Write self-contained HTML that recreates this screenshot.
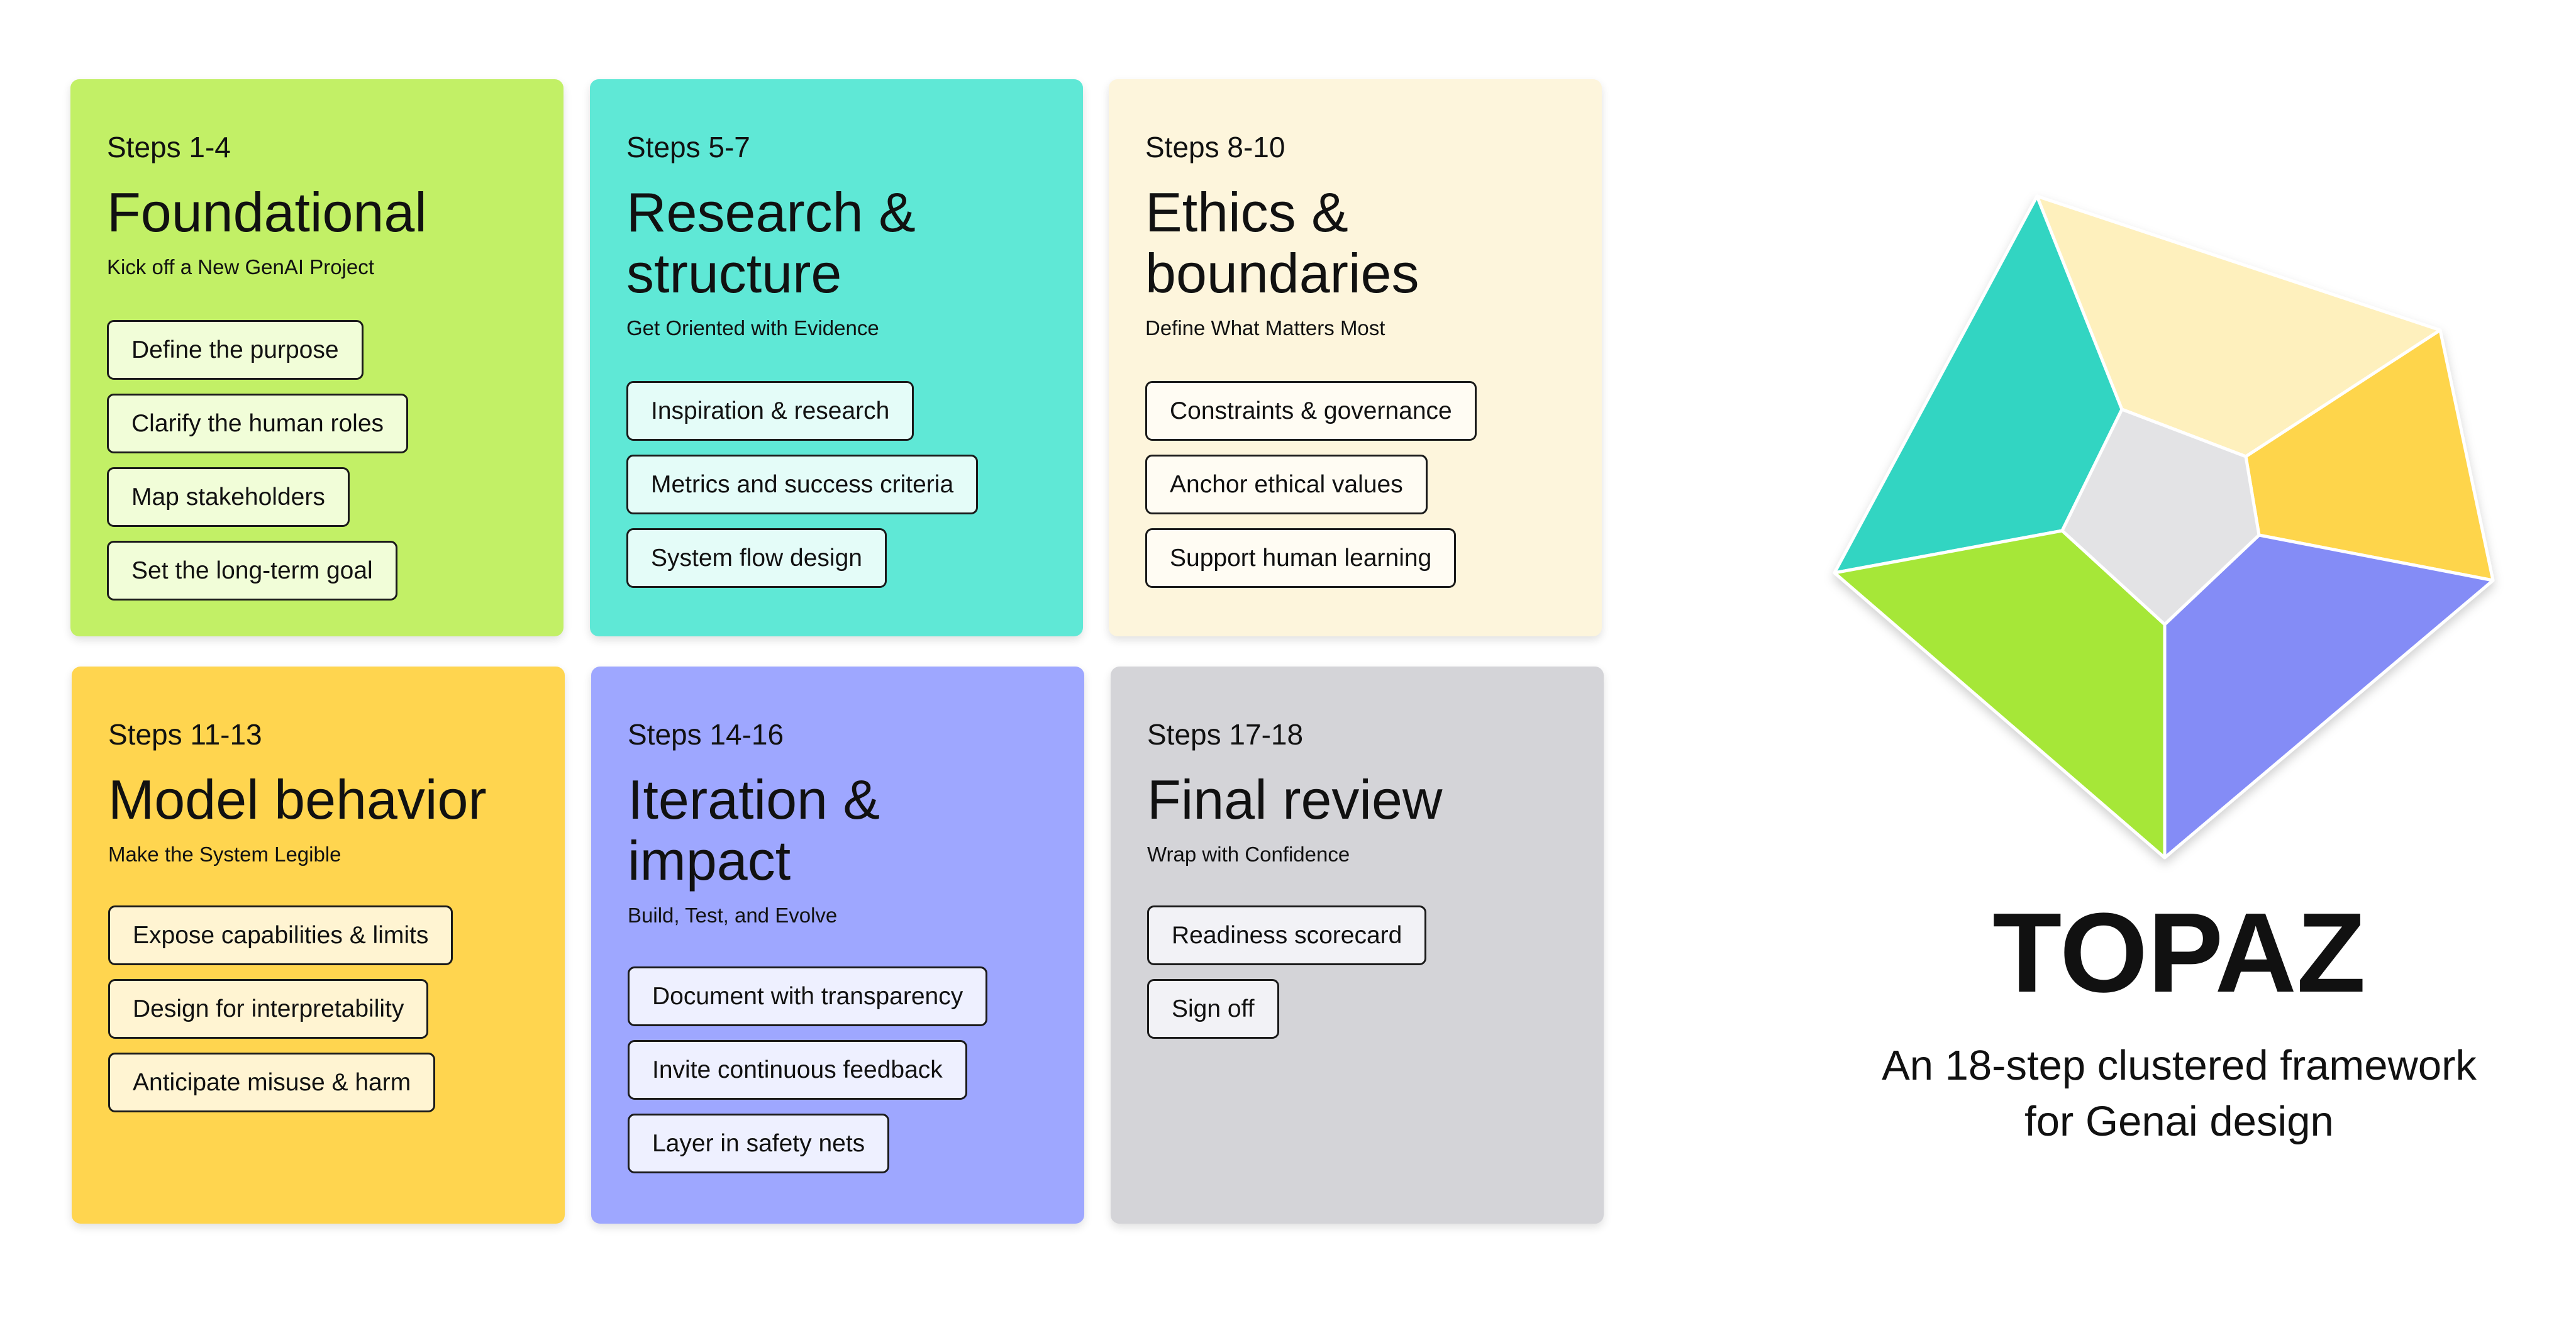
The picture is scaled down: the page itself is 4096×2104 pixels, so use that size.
<!DOCTYPE html>
<html><head><meta charset="utf-8"><style>
*{margin:0;padding:0;box-sizing:border-box}
html,body{width:4096px;height:2104px;background:#fff;overflow:hidden}
body{font-family:"Liberation Sans",sans-serif;color:#111;position:relative}
.card{position:absolute;width:784px;height:886px;border-radius:14px;box-shadow:0 6px 14px rgba(0,0,0,0.12);padding-left:58px}
.steps{position:absolute;left:58px;top:84px;font-size:46px;line-height:48px}
.title{position:absolute;left:58px;top:163px;font-size:88px;line-height:97px;white-space:nowrap}
.sub{position:absolute;left:58px;font-size:33px;line-height:40px;white-space:nowrap}
.chips{position:absolute;left:58px}
.chip{display:block;width:max-content;height:95px;line-height:89px;border:3px solid #1a1a1a;border-radius:11px;padding:0 36px;font-size:39px;margin-bottom:22px;white-space:nowrap}
</style></head><body>

<div class="card" style="left:112px;top:126px;background:#c2f066">
<div class="steps">Steps 1-4</div>
<div class="title">Foundational</div>
<div class="sub" style="top:279px">Kick off a New GenAI Project</div>
<div class="chips" style="top:383px">
<div class="chip" style="background:#f1fdd8">Define the purpose</div>
<div class="chip" style="background:#f1fdd8">Clarify the human roles</div>
<div class="chip" style="background:#f1fdd8">Map stakeholders</div>
<div class="chip" style="background:#f1fdd8">Set the long-term goal</div>
</div></div>

<div class="card" style="left:938px;top:126px;background:#5fe8d6">
<div class="steps">Steps 5-7</div>
<div class="title">Research &amp;<br>structure</div>
<div class="sub" style="top:376px">Get Oriented with Evidence</div>
<div class="chips" style="top:480px">
<div class="chip" style="background:#e4fcf8">Inspiration &amp; research</div>
<div class="chip" style="background:#e4fcf8">Metrics and success criteria</div>
<div class="chip" style="background:#e4fcf8">System flow design</div>
</div></div>

<div class="card" style="left:1763px;top:126px;background:#fdf5dc">
<div class="steps">Steps 8-10</div>
<div class="title">Ethics &amp;<br>boundaries</div>
<div class="sub" style="top:376px">Define What Matters Most</div>
<div class="chips" style="top:480px">
<div class="chip" style="background:#fffcf3">Constraints &amp; governance</div>
<div class="chip" style="background:#fffcf3">Anchor ethical values</div>
<div class="chip" style="background:#fffcf3">Support human learning</div>
</div></div>

<div class="card" style="left:114px;top:1060px;background:#ffd54f">
<div class="steps">Steps 11-13</div>
<div class="title">Model behavior</div>
<div class="sub" style="top:279px">Make the System Legible</div>
<div class="chips" style="top:380px">
<div class="chip" style="background:#fff4d2">Expose capabilities &amp; limits</div>
<div class="chip" style="background:#fff4d2">Design for interpretability</div>
<div class="chip" style="background:#fff4d2">Anticipate misuse &amp; harm</div>
</div></div>

<div class="card" style="left:940px;top:1060px;background:#9ea7ff">
<div class="steps">Steps 14-16</div>
<div class="title">Iteration &amp;<br>impact</div>
<div class="sub" style="top:376px">Build, Test, and Evolve</div>
<div class="chips" style="top:477px">
<div class="chip" style="background:#eef0ff">Document with transparency</div>
<div class="chip" style="background:#eef0ff">Invite continuous feedback</div>
<div class="chip" style="background:#eef0ff">Layer in safety nets</div>
</div></div>

<div class="card" style="left:1766px;top:1060px;background:#d4d4d8">
<div class="steps">Steps 17-18</div>
<div class="title">Final review</div>
<div class="sub" style="top:279px">Wrap with Confidence</div>
<div class="chips" style="top:380px">
<div class="chip" style="background:#f2f2f6">Readiness scorecard</div>
<div class="chip" style="background:#f2f2f6">Sign off</div>
</div></div>

<svg style="position:absolute;left:0;top:0" width="4096" height="2104">
<defs><filter id="sh" x="-10%" y="-10%" width="120%" height="120%"><feDropShadow dx="0" dy="8" stdDeviation="8" flood-color="#000" flood-opacity="0.18"/></filter></defs>
<g filter="url(#sh)" stroke="#fff" stroke-width="5" stroke-linejoin="round">
<polygon points="3239,312 3374,651 3279,844 2917,911" fill="#30d5c2"/>
<polygon points="3239,312 3880,525 3571,726 3374,651" fill="#fef0bd"/>
<polygon points="3880,525 3964,923 3592,851 3571,726" fill="#fed54c"/>
<polygon points="3964,923 3442,1364 3442,993 3592,851" fill="#848cf6"/>
<polygon points="3442,1364 2917,911 3279,844 3442,993" fill="#a6e739"/>
<polygon points="3374,651 3571,726 3592,851 3442,993 3279,844" fill="#e3e3e5"/>
</g>
</svg>

<div style="position:absolute;left:3000px;width:930px;top:1406px;text-align:center;font-size:180px;font-weight:bold;line-height:220px">TOPAZ</div>
<div style="position:absolute;left:2880px;width:1170px;top:1650px;text-align:center;font-size:67px;line-height:89px">An 18-step clustered framework<br>for Genai design</div>
</body></html>
